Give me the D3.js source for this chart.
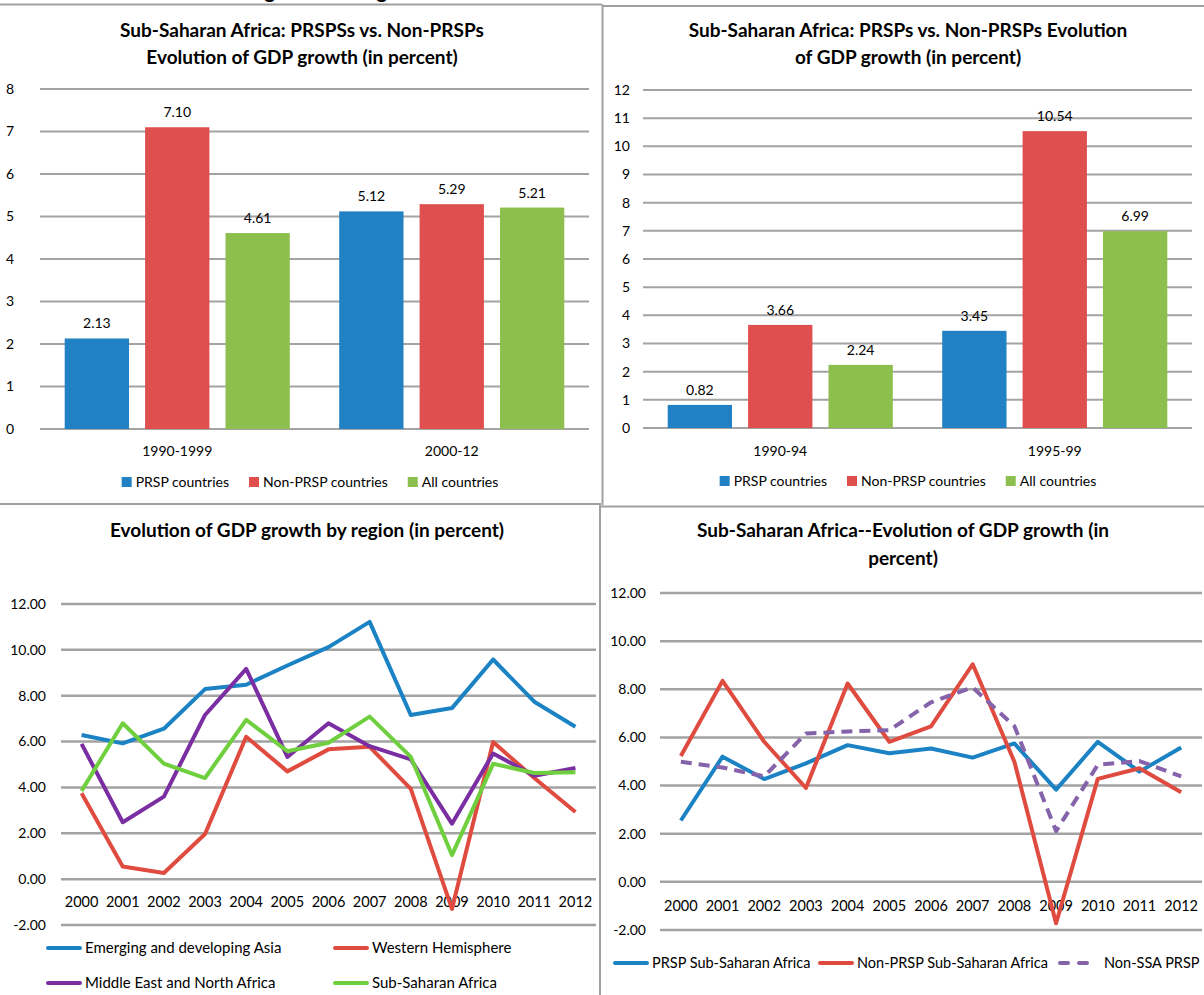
<!DOCTYPE html>
<html>
<head>
<meta charset="utf-8">
<script src="https://cdn.jsdelivr.net/npm/d3@7"></script>
<style>
  body { margin: 0; background: #fff; }
  svg { display: block; font-family: Lato, "Liberation Sans", sans-serif; }
</style>
</head>
<body>
<script>

// ---- data ----
var barSeries = ["PRSP countries", "Non-PRSP countries", "All countries"];

var periodsA = ["1990-1999", "2000-12"];
var prspA = [2.13, 5.12];
var nonPrspA = [7.10, 5.29];
var allA = [4.61, 5.21];
var ticksA = [0, 1, 2, 3, 4, 5, 6, 7, 8];

var periodsB = ["1990-94", "1995-99"];
var prspB = [0.82, 3.45];
var nonPrspB = [3.66, 10.54];
var allB = [2.24, 6.99];
var ticksB = [0, 1, 2, 3, 4, 5, 6, 7, 8, 9, 10, 11, 12];

var years = ["2000", "2001", "2002", "2003", "2004", "2005", "2006", "2007", "2008", "2009", "2010", "2011", "2012"];
var lineTicks = [-2, 0, 2, 4, 6, 8, 10, 12];

var regionNames = ["Emerging and developing Asia", "Western Hemisphere", "Middle East and North Africa", "Sub-Saharan Africa"];
var asia = [6.29, 5.92, 6.56, 8.29, 8.48, 9.32, 10.12, 11.22, 7.16, 7.46, 9.58, 7.74, 6.65];
var westHem = [3.75, 0.55, 0.27, 1.97, 6.21, 4.70, 5.66, 5.77, 3.94, -1.30, 5.98, 4.41, 2.93];
var mena = [5.90, 2.48, 3.60, 7.16, 9.17, 5.33, 6.80, 5.80, 5.22, 2.42, 5.48, 4.51, 4.85];
var ssa = [3.85, 6.80, 5.04, 4.41, 6.95, 5.58, 5.95, 7.09, 5.33, 1.05, 5.03, 4.63, 4.66];

var ssaNames = ["PRSP Sub-Saharan Africa", "Non-PRSP Sub-Saharan Africa", "Non-SSA PRSP"];
var prspSSA = [2.55, 5.20, 4.27, 4.92, 5.68, 5.34, 5.54, 5.16, 5.75, 3.83, 5.82, 4.58, 5.58];
var nonPrspSSA = [5.23, 8.35, 5.82, 3.90, 8.24, 5.82, 6.46, 9.04, 4.99, -1.72, 4.28, 4.72, 3.72];
var nonSsaPrsp = [4.99, 4.75, 4.38, 6.16, 6.25, 6.30, 7.46, 8.08, 6.47, 2.11, 4.86, 5.02, 4.38];

var barColors = ["#2181c4", "#df4f4e", "#8dbf4f"];
var gridColor = "#a3a3a3";

var svg = d3.select("body").append("svg")
	.attr("width", 1204)
	.attr("height", 995);

// figure caption, cut by the top edge as in the source page
svg.append("text")
	.attr("x", 248)
	.attr("y", -2)
	.attr("font-weight", "bold")
	.attr("font-size", 20)
	.text("Figure 2. GDP growth in Sub-Saharan Africa and the rest of the world");

// panel frame
var frame = [
	[0, 4.5, 602, 4.5], [602, 6, 1204, 6],
	[602.5, 4.5, 602.5, 505], [0, 504, 601, 504],
	[601, 506.5, 1204, 506.5], [600, 504, 600, 995]
];
svg.selectAll("line.frame")
	.data(frame)
	.enter()
		.append("line")
		.attr("class", "frame")
		.attr("x1", d => d[0]).attr("y1", d => d[1])
		.attr("x2", d => d[2]).attr("y2", d => d[3])
		.attr("stroke", "#a0a0a0")
		.attr("stroke-width", 2);

function drawTitle(lines, cx, y0, lh) {
	svg.append("text")
		.attr("text-anchor", "middle")
		.attr("font-weight", "bold")
		.attr("font-size", 19)
		.selectAll("tspan")
		.data(lines)
		.enter()
			.append("tspan")
			.attr("x", cx)
			.attr("y", (d, i) => y0 + i * lh)
			.text(d => d);
}

function drawBars(cfg) {
	let x0 = d3.scaleBand()
		.domain(cfg.periods)
		.range(cfg.xRange)
		.paddingInner(0.18)
		.paddingOuter(0.09);

	let x1 = d3.scaleBand()
		.domain(barSeries)
		.range([0, x0.bandwidth()])
		.paddingInner(0.2);

	let y = d3.scaleLinear()
		.domain([0, d3.max(cfg.ticks)])
		.range(cfg.yRange);

	let g = svg.append("g");

	g.selectAll("line.grid")
		.data(cfg.ticks)
		.enter()
			.append("line")
			.attr("x1", cfg.xRange[0])
			.attr("x2", cfg.xRange[1])
			.attr("y1", d => y(d))
			.attr("y2", d => y(d))
			.attr("stroke", gridColor)
			.attr("stroke-width", 2);

	g.selectAll("text.tick")
		.data(cfg.ticks)
		.enter()
			.append("text")
			.attr("x", cfg.labelX)
			.attr("y", d => y(d))
			.attr("dy", "0.35em")
			.attr("text-anchor", "end")
			.attr("font-size", 14)
			.text(d => d);

	let rows = [];
	cfg.periods.forEach((p, i) => {
		cfg.values.forEach((vals, j) => {
			rows.push({period: p, series: barSeries[j], value: vals[i], color: barColors[j]});
		});
	});

	g.selectAll("rect")
		.data(rows)
		.enter()
			.append("rect")
			.attr("x", d => x0(d.period) + x1(d.series))
			.attr("width", x1.bandwidth())
			.attr("y", d => y(d.value))
			.attr("height", d => y(0) - y(d.value))
			.attr("fill", d => d.color);

	g.selectAll("text.val")
		.data(rows)
		.enter()
			.append("text")
			.attr("x", d => x0(d.period) + x1(d.series) + x1.bandwidth() / 2)
			.attr("y", d => y(d.value) - 10)
			.attr("text-anchor", "middle")
			.attr("font-size", 14)
			.text(d => d.value.toFixed(2));

	g.selectAll("text.cat")
		.data(cfg.periods)
		.enter()
			.append("text")
			.attr("x", d => x0(d) + x0.bandwidth() / 2)
			.attr("y", cfg.catY)
			.attr("text-anchor", "middle")
			.attr("font-size", 14)
			.text(d => d);

	// legend, centred
	let leg = g.append("g");
	let cursor = 0;
	barSeries.forEach((name, i) => {
		leg.append("rect")
			.attr("x", cursor)
			.attr("y", cfg.legendY - 5)
			.attr("width", 10)
			.attr("height", 10)
			.attr("fill", barColors[i]);
		let t = leg.append("text")
			.attr("x", cursor + 14)
			.attr("y", cfg.legendY)
			.attr("dy", "0.35em")
			.attr("font-size", 14)
			.text(name);
		cursor += 14 + t.node().getComputedTextLength() + 20;
	});
	let w = cursor - 20;
	leg.attr("transform", "translate(" + (cfg.legendCx - w / 2) + ",0)");

	drawTitle(cfg.title, cfg.titleCx, 37, 27);
}

function drawLines(cfg) {
	let x = d3.scalePoint()
		.domain(years)
		.range(cfg.xRange)
		.padding(0.5);

	let y = d3.scaleLinear()
		.domain([-2, 12])
		.range(cfg.yRange);

	let g = svg.append("g");

	g.selectAll("line.grid")
		.data(lineTicks)
		.enter()
			.append("line")
			.attr("x1", cfg.xRange[0])
			.attr("x2", cfg.xRange[1])
			.attr("y1", d => y(d))
			.attr("y2", d => y(d))
			.attr("stroke", gridColor)
			.attr("stroke-width", 2.5);

	g.selectAll("text.tick")
		.data(lineTicks)
		.enter()
			.append("text")
			.attr("x", cfg.labelX)
			.attr("y", d => y(d))
			.attr("dy", "0.35em")
			.attr("text-anchor", "end")
			.attr("font-size", 14)
			.text(d => d.toFixed(2));

	g.selectAll("text.year")
		.data(years)
		.enter()
			.append("text")
			.attr("x", d => x(d))
			.attr("y", (y(0) + y(-2)) / 2)
			.attr("dy", "0.35em")
			.attr("text-anchor", "middle")
			.attr("font-size", 14.5)
			.text(d => d);

	let line = d3.line()
		.x((d, i) => x(years[i]))
		.y(d => y(d));

	cfg.series.forEach(s => {
		g.append("path")
			.attr("d", line(s.values))
			.attr("fill", "none")
			.attr("stroke", s.color)
			.attr("stroke-width", 4)
			.attr("stroke-linejoin", "round")
			.attr("stroke-dasharray", s.dash || null);
	});

	// legend
	cfg.series.forEach((s, i) => {
		let lx = cfg.legendPos[i][0], ly = cfg.legendPos[i][1];
		g.append("line")
			.attr("x1", lx + 2)
			.attr("x2", lx + 34)
			.attr("y1", ly)
			.attr("y2", ly)
			.attr("stroke", s.color)
			.attr("stroke-width", 4)
			.attr("stroke-linecap", "round")
			.attr("stroke-dasharray", s.dash ? "8,11" : null);
		g.append("text")
			.attr("x", lx + (s.dash ? 46 : 39))
			.attr("y", ly)
			.attr("dy", "0.35em")
			.attr("font-size", cfg.legendFont)
			.text(s.name);
	});

	drawTitle(cfg.title, cfg.titleCx, 537, 28);
}

drawBars({
	periods: periodsA,
	values: [prspA, nonPrspA, allA],
	ticks: ticksA,
	xRange: [40, 589],
	yRange: [429, 89],
	labelX: 14,
	catY: 456,
	legendY: 482,
	legendCx: 310,
	title: ["Sub-Saharan Africa: PRSPSs vs. Non-PRSPs", "Evolution of GDP growth (in percent)"],
	titleCx: 302
});

drawBars({
	periods: periodsB,
	values: [prspB, nonPrspB, allB],
	ticks: ticksB,
	xRange: [643, 1192],
	yRange: [428, 90],
	labelX: 630,
	catY: 456,
	legendY: 481,
	legendCx: 908,
	title: ["Sub-Saharan Africa: PRSPs vs. Non-PRSPs Evolution", "of GDP growth (in percent)"],
	titleCx: 908
});

drawLines({
	xRange: [61, 596],
	yRange: [925, 604],
	labelX: 46,
	legendFont: 15,
	title: ["Evolution of GDP growth by region (in percent)"],
	titleCx: 307,
	series: [
		{name: regionNames[0], values: asia, color: "#1b82c4"},
		{name: regionNames[1], values: westHem, color: "#e04b40"},
		{name: regionNames[2], values: mena, color: "#7a2ea1"},
		{name: regionNames[3], values: ssa, color: "#6fcf3e"}
	],
	legendPos: [[46, 948], [333, 948], [46, 983], [333, 983]]
});

drawLines({
	xRange: [660, 1202],
	yRange: [930, 593],
	labelX: 646,
	legendFont: 14.5,
	title: ["Sub-Saharan Africa--Evolution of GDP growth  (in", "percent)"],
	titleCx: 903,
	series: [
		{name: ssaNames[0], values: prspSSA, color: "#1b82c4"},
		{name: ssaNames[1], values: nonPrspSSA, color: "#e04b40"},
		{name: ssaNames[2], values: nonSsaPrsp, color: "#8563aa", dash: "11,7"}
	],
	legendPos: [[613, 963], [818, 963], [1058, 963]]
});

</script>
</body>
</html>
